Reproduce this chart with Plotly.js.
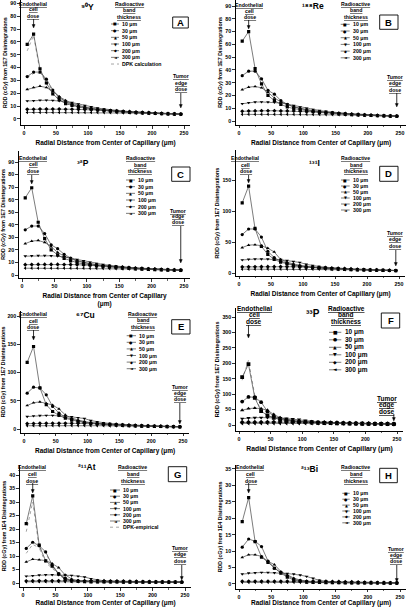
<!DOCTYPE html>
<html><head><meta charset="utf-8">
<script src="https://cdn.plot.ly/plotly-3.0.1.min.js"></script>
<style>html,body{margin:0;padding:0;background:#fff;}#chart{width:407px;height:607px;}</style>
</head><body><div id="chart"></div>
<script>
// ---------- DATA ----------
const xRadial = [5,15,25,35,45,55,65,75,85,95,105,115,125,135,145,155,165,175,185,195,205,215,225,235,245];
const bandLabels = ['10 \u03bcm','30 \u03bcm','50 \u03bcm','100 \u03bcm','200 \u03bcm','300 \u03bcm'];
const panelLetters = ['A','B','C','D','E','F','G','H'];
const isotopeLabels = ['\u2079\u2070Y','\u00b9\u2078\u2078Re','\u00b3\u00b2P','\u00b9\u00b3\u00b9I','\u2076\u2077Cu','\u00b3\u00b3P','\u00b2\u00b9\u00b9At','\u00b2\u00b9\u00b3Bi'];
const yTitles = ['RDD (cGy) from 1E7 Disintegrations','RDD (cGy) from 1E7 Disintegrations','RDD (cGy) from 1E7 Disintegrations','RDD (cGy) from 1E7 Disintegrations','RDD (cGy) from 1E7 Disintegrations','RDD (cGy) from 1E7 Disintegrations','RDD (cGy) from 1E4 Disintegrations','RDD (cGy) from 1E4 Disintegrations'];
const xTitle = 'Radial Distance from Center of Capillary (\u03bcm)';
const endoX = 15, tumorX = 245;

// Panel A: 90Y
const a10  = [58,66,39,28,19.5,15,12,10.5,9.3,8.4,7.7,7.1,6.6,6.2,5.8,5.5,5.2,4.9,4.7,4.5,4.3,4.1,3.9,3.8,3.7];
const a30  = [33,36.5,36.5,31,22.5,17,13.5,11.3,9.8,8.8,8,7.3,6.8,6.3,5.9,5.6,5.3,5.0,4.8,4.6,4.4,4.2,4.0,3.9,3.8];
const a50  = [23,24.5,25.5,24.5,21.5,17.5,14.5,12.2,10.5,9.3,8.4,7.7,7.1,6.6,6.1,5.7,5.4,5.1,4.9,4.7,4.5,4.3,4.1,4.0,3.9];
const a100 = [14,14.2,14.6,14.6,14.4,14.1,13.6,12.8,11.6,10.4,9.4,8.5,7.8,7.2,6.6,6.1,5.7,5.4,5.1,4.8,4.6,4.4,4.2,4.0,3.9];
const a200 = [7.5,7.6,7.7,7.7,7.7,7.7,7.6,7.6,7.5,7.4,7.3,7.1,6.9,6.6,6.3,6.0,5.7,5.4,5.1,4.9,4.6,4.4,4.2,4.0,3.8];
const a300 = [5.1,5.1,5.1,5.1,5.1,5.1,5.1,5.1,5.1,5.1,5.1,5.0,5.0,4.9,4.9,4.8,4.7,4.6,4.5,4.4,4.3,4.1,4.0,3.8,3.7];
const aDpk10 = [53,65,37,27,19,15,12,10.3,9.1,8.2,7.5,7.0,6.5,6.1,5.7,5.4,5.1,4.9,4.7,4.5,4.3,4.1,3.9,3.8,3.7];
const aDpk30 = [32,35.5,35.5,30,21.5,16.5,13.2,11,9.6,8.6,7.9,7.2,6.7,6.2,5.8,5.5,5.2,5.0,4.8,4.6,4.4,4.2,4.0,3.9,3.8];

// Panel B: 188Re
const b10  = [62.5,70,41,29,20,16,13,11,9.7,8.7,7.9,7.3,6.7,6.3,5.9,5.5,5.2,4.9,4.7,4.5,4.3,4.1,3.9,3.8,3.7];
const b30  = [35.5,39,39,33,24,21,16,13,11.2,9.8,8.8,8,7.3,6.8,6.3,5.9,5.5,5.2,4.9,4.7,4.5,4.3,4.1,3.9,3.8];
const b50  = [24.5,26.5,27,26,22.5,18,15,12.7,11,9.8,8.8,8,7.4,6.8,6.3,5.9,5.5,5.2,4.9,4.7,4.5,4.3,4.1,4.0,3.9];
const b100 = [13.5,14.3,14.8,14.9,14.8,14.6,14.1,13.2,12.1,11,9.9,9,8.2,7.5,6.9,6.4,5.9,5.5,5.2,4.9,4.6,4.4,4.2,4.0,3.9];
const b200 = [7.6,7.8,7.9,8,8,8,7.9,7.9,7.8,7.7,7.5,7.3,7.0,6.7,6.4,6.1,5.8,5.5,5.2,4.9,4.7,4.4,4.2,4.0,3.9];
const b300 = [5.2,5.2,5.2,5.2,5.2,5.2,5.2,5.2,5.2,5.2,5.2,5.1,5.1,5.0,4.9,4.9,4.8,4.7,4.5,4.4,4.3,4.1,4.0,3.8,3.7];

// Panel C: 32P
const c10  = [61.5,69.5,42,29,20,16,13.2,11.2,9.8,8.8,8,7.3,6.8,6.3,5.9,5.5,5.2,4.9,4.7,4.5,4.3,4.1,3.9,3.8,3.7];
const c30  = [36,39,39,33,24,21,16.5,13.5,11.5,10,9,8.2,7.5,6.9,6.4,6,5.6,5.3,5,4.8,4.6,4.4,4.2,4.0,3.9];
const c50  = [25,27,27.5,26,22.5,18,15,12.8,11.1,9.9,8.9,8.1,7.5,6.9,6.4,6,5.6,5.3,5,4.8,4.6,4.4,4.2,4.0,3.9];
const c100 = [15,15.2,15.4,15.5,15.3,15,14.4,13.5,12.4,11.3,10.2,9.2,8.4,7.7,7.1,6.5,6,5.6,5.3,5,4.7,4.5,4.3,4.1,3.9];
const c200 = [8.2,8.3,8.4,8.4,8.4,8.4,8.3,8.3,8.2,8.0,7.8,7.6,7.3,7.0,6.6,6.3,5.9,5.6,5.3,5.0,4.8,4.5,4.3,4.1,3.9];
const c300 = [5.4,5.4,5.4,5.4,5.4,5.4,5.4,5.4,5.4,5.4,5.3,5.3,5.2,5.1,5.0,4.9,4.8,4.7,4.6,4.5,4.3,4.2,4.0,3.9,3.7];

// Panel D: 131I
const d10  = [113,140,72,43,30,22,17.5,14.5,12.3,10.8,9.6,8.7,7.9,7.3,6.8,6.3,5.9,5.5,5.2,4.9,4.6,4.4,4.2,4.0,3.9];
const d30  = [62,71,71,58,35,25,19,15.5,13,11.3,10,9,8.2,7.5,6.9,6.4,6,5.6,5.3,5,4.7,4.5,4.3,4.1,3.9];
const d50  = [41,45,45.5,44,40,34,22,17.5,14.5,12.4,10.8,9.6,8.7,7.9,7.2,6.7,6.2,5.8,5.4,5.1,4.8,4.6,4.3,4.1,4.0];
const d100 = [21,22,22.5,22.5,22.5,22,21.5,20,18.5,17,14,12,10.5,9.3,8.3,7.5,6.8,6.3,5.8,5.4,5.1,4.8,4.5,4.3,4.1];
const d200 = [9.8,10,10.1,10.2,10.2,10.2,10.2,10.1,10.0,9.9,9.7,9.4,9.0,8.6,8.1,7.6,7.1,6.6,6.1,5.7,5.3,5.0,4.6,4.3,4.0];
const d300 = [6.2,6.2,6.2,6.3,6.3,6.3,6.3,6.3,6.3,6.3,6.2,6.2,6.1,6.0,5.9,5.8,5.6,5.4,5.2,5.0,4.8,4.6,4.4,4.1,3.9];

// Panel E: 67Cu
const e10  = [118,146,73,43,31,24,19,15.6,13.2,11.5,10.1,9.1,8.2,7.5,6.9,6.4,5.9,5.5,5.2,4.9,4.6,4.4,4.2,4.0,3.8];
const e30  = [63.5,74,72.5,60.5,40,28,21,17,14.2,12.1,10.6,9.4,8.5,7.7,7.1,6.5,6.1,5.7,5.3,5.0,4.7,4.5,4.3,4.1,3.9];
const e50  = [41.5,46.5,48,45.5,42.5,35.5,25,19.2,15.6,13.2,11.4,10.1,9,8.2,7.5,6.9,6.3,5.9,5.5,5.2,4.9,4.6,4.4,4.2,4.0];
const e100 = [22,23,23.8,24,24,23.5,23,21.5,20,18.5,15,12.8,11.1,9.8,8.7,7.8,7.1,6.5,6,5.6,5.2,4.9,4.6,4.3,4.1];
const e200 = [9.5,9.8,10,10,10.1,10.1,10.1,10.1,10,9.9,9.7,9.4,9,8.6,8.1,7.6,7.1,6.6,6.1,5.7,5.3,5,4.6,4.3,4.0];
const e300 = [5.8,5.9,5.9,5.9,6,6,6,6,6,6,5.9,5.9,5.8,5.7,5.6,5.5,5.4,5.2,5.0,4.9,4.7,4.5,4.3,4.1,3.9];

// Panel F: 33P
const f10  = [155,197,88,45,31,23,18,14.5,12,10.3,9,8,7.2,6.5,6,5.5,5.1,4.7,4.4,4.1,3.8,3.6,3.4,3.2,3.0];
const f30  = [76,91,90,74,44,29,21,16.5,13.5,11.4,9.9,8.7,7.8,7,6.4,5.8,5.4,5,4.6,4.3,4,3.7,3.5,3.3,3.1];
const f50  = [48,53,55,53,48,34,24,18.5,15,12.6,10.8,9.5,8.4,7.6,6.8,6.2,5.7,5.2,4.8,4.5,4.1,3.9,3.6,3.4,3.2];
const f100 = [20.5,22.5,23.5,24,24,23.5,22.5,21,19.5,18,14.5,12.2,10.5,9.2,8.2,7.3,6.6,6,5.5,5.1,4.7,4.3,4,3.7,3.4];
const f200 = [8.7,9,9.2,9.3,9.4,9.4,9.4,9.4,9.3,9.2,9,8.7,8.4,8,7.6,7.1,6.6,6.1,5.6,5.2,4.8,4.4,4.1,3.8,3.5];
const f300 = [5.4,5.5,5.5,5.6,5.6,5.6,5.6,5.6,5.6,5.6,5.6,5.5,5.5,5.4,5.3,5.1,5,4.8,4.6,4.4,4.2,3.9,3.7,3.5,3.3];
const fDpk10 = [145,210,95,46,31,23,18,14.5,12,10.3,9,8,7.2,6.5,6,5.5,5.1,4.7,4.4,4.1,3.8,3.6,3.4,3.2,3.0];

// Panel G: 211At
const g10  = [22,32.3,14,8.2,6.2,3.3,1.5,0.8,0.6,0.5,0.45,0.42,0.4,0.38,0.37,0.36,0.35,0.34,0.33,0.32,0.31,0.3,0.3,0.29,0.28];
const g30  = [12.8,15.1,13.8,11.5,6.7,3.5,1.8,1.0,0.7,0.6,0.55,0.5,0.47,0.45,0.43,0.41,0.4,0.38,0.37,0.36,0.35,0.34,0.33,0.32,0.31];
const g50  = [7.8,8.8,8.6,8.3,7.2,5.7,3,1.5,0.9,0.7,0.6,0.55,0.5,0.48,0.46,0.44,0.42,0.4,0.39,0.38,0.37,0.36,0.35,0.34,0.33];
const g100 = [2.5,2.7,2.9,3,3,3,2.9,2.8,2.5,2.2,1.6,1.1,0.8,0.65,0.57,0.52,0.48,0.45,0.43,0.41,0.39,0.38,0.36,0.35,0.34];
const g200 = [0.75,0.78,0.8,0.8,0.8,0.8,0.8,0.8,0.8,0.8,0.8,0.78,0.76,0.74,0.7,0.67,0.63,0.59,0.55,0.51,0.47,0.44,0.41,0.38,0.36];
const g300 = [0.45,0.46,0.47,0.47,0.47,0.47,0.47,0.47,0.47,0.47,0.47,0.47,0.47,0.46,0.46,0.45,0.44,0.43,0.42,0.41,0.4,0.39,0.37,0.36,0.35];
const gDpk10 = [19,30,13,7.5,5.5,3,1.4,0.7,0.5,0.45,0.4,0.38,0.36,0.35,0.34,0.33,0.32,0.31,0.3,0.3,0.29,0.28,0.28,0.27,0.27];
const gDpk30 = [11,14.3,13,11,6.4,3.3,1.7,0.9,0.65,0.55,0.5,0.47,0.44,0.42,0.4,0.39,0.37,0.36,0.35,0.34,0.33,0.32,0.31,0.3,0.3];

// Panel H: 213Bi
const h10  = [19,26.3,12.9,8.2,6.6,4.8,3.3,2.1,1.2,0.8,0.6,0.5,0.45,0.42,0.4,0.38,0.36,0.34,0.33,0.32,0.31,0.3,0.29,0.28,0.27];
const h30  = [11.2,13.7,13,11.4,7,4.8,3.5,2.5,1.5,1,0.7,0.55,0.5,0.46,0.43,0.41,0.39,0.37,0.35,0.34,0.33,0.32,0.31,0.3,0.29];
const h50  = [8.1,8.9,8.9,8.4,6.9,5.9,3.8,2.7,1.8,1.2,0.8,0.6,0.52,0.48,0.45,0.42,0.4,0.38,0.36,0.35,0.34,0.33,0.32,0.31,0.3];
const h100 = [3,3.3,3.4,3.5,3.5,3.4,3.3,3.2,3,2.7,2.3,1.7,1.1,0.8,0.62,0.54,0.49,0.45,0.42,0.4,0.38,0.36,0.35,0.34,0.33];
const h200 = [0.8,0.82,0.84,0.85,0.85,0.85,0.85,0.85,0.85,0.85,0.85,0.84,0.82,0.8,0.77,0.73,0.69,0.64,0.59,0.54,0.5,0.46,0.42,0.39,0.36];
const h300 = [0.5,0.5,0.51,0.51,0.51,0.51,0.51,0.51,0.51,0.51,0.51,0.51,0.5,0.5,0.49,0.49,0.48,0.47,0.46,0.45,0.43,0.42,0.4,0.38,0.36];

// ---------- LAYOUT / STYLE ----------
const W = 407, H = 607;
const FONT = 'Liberation Sans, Arial, sans-serif';
const PX = v => v / W, PY = v => 1 - v / H;
const symbols = ['square','circle','triangle-up','triangle-down','diamond','triangle-left'];
const glyphs = ['\u25A0','\u25CF','\u25B2','\u25BC','\u25C6','\u25C4'];

const panels = [
 {series:[a10,a30,a50,a100,a200,a300], dpk:[aDpk10,aDpk30], dpkLabel:'DPK calculation',
  g:{x0:24,x250:184,y0:119,yT:3.3,T:90,ylo:-4.7,yhi:92.5,dt:10}, fs:5.2,
  endo:{x:33,y:3.5,dy:6,t:19,h:28}, iso:{x:87,y:7}, band:{x:129,y:4,dy:6.3},
  leg:{s0:111,s1:119,tx:121,y:24,dy:6.67}, box:[172.7,188.3,17,28], tum:{x:180.5,y:76,dy:6.7,t:93,h:108}},
 {series:[b10,b30,b50,b100,b200,b300], dpk:[],
  g:{x0:239,x250:400,y0:121,yT:6,T:90,ylo:-3.1,yhi:94.7,dt:10}, fs:5.2,
  endo:{x:249.7,y:5,dy:5.85,t:20,h:29}, iso:{x:313,y:6}, band:{x:355.7,y:4,dy:6.3},
  leg:{s0:340.7,s1:349.7,tx:352,y:24.3,dy:6.7}, box:[379.7,398,15,29.3], tum:{x:395,y:77,dy:6.3,t:93,h:107}},
 {series:[c10,c30,c50,c100,c200,c300], dpk:[],
  g:{x0:22,x250:184,y0:275,yT:162,T:90,ylo:-2.4,yhi:99,dt:10}, fs:5.2, wrapX:true,
  endo:{x:33.3,y:158,dy:6.3,t:175,h:184}, iso:{x:83,y:163}, band:{x:140,y:158,dy:6.6},
  leg:{s0:126,s1:135,tx:137,y:180,dy:6.67}, box:[171.7,190,167,181.3], tum:{x:178,y:210.7,dy:5.7,t:226,h:263}},
 {series:[d10,d30,d50,d100,d200,d300], dpk:[],
  g:{x0:239,x250:399,y0:273,yT:180,T:150,ylo:-4.8,yhi:198,dt:50}, fs:5.2,
  endo:{x:245.7,y:158,dy:6.6,t:175,h:183}, iso:{x:314.7,y:163}, band:{x:355.7,y:158,dy:6.6},
  leg:{s0:341,s1:349.7,tx:352,y:180,dy:6}, box:[379.7,398,166.3,181.3], tum:{x:395.3,y:233,dy:6.3,t:250,h:266}},
 {series:[e10,e30,e50,e100,e200,e300], dpk:[],
  g:{x0:24,x250:183,y0:429,yT:316,T:200,ylo:-7,yhi:209,dt:50}, fs:5.2,
  endo:{x:33.3,y:314,dy:6.7,t:330,h:340}, iso:{x:85,y:315.3}, band:{x:142.7,y:314,dy:6.3},
  leg:{s0:126.7,s1:136,tx:138,y:335.7,dy:6.6}, box:[171.7,190,319.7,334], tum:{x:180,y:387.3,dy:5.85,t:403,h:424}},
 {series:[f10,f30,f50,f100,f200,f300], dpk:[fDpk10], dpkLabel:null,
  g:{x0:239,x250:397,y0:425,yT:317,T:350,ylo:-19,yhi:380,dt:50}, fs:6.5, big:true,
  endo:{x:254,y:308,dy:6.7,t:325,h:338}, iso:{x:313,y:313}, band:{x:346.3,y:308,dy:6.8},
  leg:{s0:329,s1:341.3,tx:344,y:332.3,dy:7.5}, box:[381.3,399.7,313,328], tum:{x:387.3,y:398,dy:6.7,t:414,h:421}},
 {series:[g10,g30,g50,g100,g200,g300], dpk:[gDpk10,gDpk30], dpkLabel:'DPK-empirical',
  g:{x0:23,x250:185,y0:583,yT:475,T:40,ylo:-1.5,yhi:43.7,dt:5}, fs:5.2,
  endo:{x:32.3,y:466.7,dy:7,t:483,h:493}, iso:{x:86.7,y:466.7}, band:{x:132.7,y:466.7,dy:7.3},
  leg:{s0:110,s1:120,tx:122,y:490,dy:6.2}, box:[168.3,186.7,466.7,481.7], tum:{x:180,y:547.7,dy:6.7,t:565,h:580}},
 {series:[h10,h30,h50,h100,h200,h300], dpk:[],
  g:{x0:239,x250:400,y0:584,yT:469,T:35,ylo:-1.5,yhi:36.2,dt:5}, fs:5.2,
  endo:{x:250.7,y:466.7,dy:7,t:483,h:493}, iso:{x:309,y:469}, band:{x:355.7,y:466.7,dy:7},
  leg:{s0:342.3,s1:349.7,tx:352,y:493.3,dy:5.9}, box:[379.7,397.3,468.3,482.7], tum:{x:396.3,y:549,dy:6,t:565,h:582}}
];

const traces = [], shapes = [], annotations = [];
const layout = {
  width: W, height: H, margin: {l:0, r:0, t:0, b:0},
  paper_bgcolor: '#fff', plot_bgcolor: '#fff', showlegend: false,
  font: {family: FONT, color: '#000'}
};

function textLines(lines, xc, y0, dy, size, underline) {
  lines.forEach((t, k) => annotations.push({
    xref:'paper', yref:'paper', x:PX(xc), y:PY(y0 + k*dy), xanchor:'center', yanchor:'middle',
    text:t, showarrow:false, borderpad:0,
    font:{family:FONT, size:size, color:'#000', weight:'bold', lineposition: underline ? 'under' : 'none'}
  }));
}

// downward arrow drawn as shapes: x in data units of axis xa, y in paper pixels
function arrowShape(xa, xData, tailPx, headPx, sx) {
  const hw = 1.5 / sx;
  const hl = 3.5;
  shapes.push({type:'line', xref:xa, yref:'paper', x0:xData, x1:xData, y0:PY(tailPx), y1:PY(headPx - hl + 0.5),
    line:{color:'#000', width:0.8}});
  shapes.push({type:'path', xref:xa, yref:'paper',
    path:`M ${xData - hw} ${PY(headPx - hl)} L ${xData + hw} ${PY(headPx - hl)} L ${xData} ${PY(headPx)} Z`,
    fillcolor:'#000', line:{color:'#000', width:0.4}});
}

panels.forEach((p, i) => {
  const n = i + 1;
  const xa = n === 1 ? 'x' : 'x' + n, ya = n === 1 ? 'y' : 'y' + n;
  const g = p.g;
  const sx = (g.x250 - g.x0) / 250, sy = (g.y0 - g.yT) / g.T;
  const left = g.x0 - 5 * sx, right = g.x0 + 260 * sx;
  const top = g.y0 - g.yhi * sy, bottom = g.y0 - g.ylo * sy;
  const tickSize = 5.3;
  layout[n === 1 ? 'xaxis' : 'xaxis' + n] = {
    domain:[PX(left), PX(right)], range:[-5, 260], anchor: ya, automargin:false,
    showline:true, linecolor:'#000', linewidth:1, mirror:false,
    ticks:'outside', ticklen:2.5, tickwidth:0.8, tickcolor:'#000',
    tick0:0, dtick:50, showgrid:false, zeroline:false,
    minor:{ticks:'outside', ticklen:1.5, tickwidth:0.6, dtick:25, tickcolor:'#000'},
    tickfont:{family:FONT, size:tickSize, color:'#000', weight:'bold'},
    title:{text: p.wrapX ? 'Radial Distance from Center of Capillary<br>(\u03bcm)' : xTitle,
           font:{family:FONT, size: p.big ? 6.8 : 6.5, color:'#000', weight:'bold'}, standoff:5}
  };
  layout[n === 1 ? 'yaxis' : 'yaxis' + n] = {
    domain:[PY(bottom), PY(top)], range:[g.ylo, g.yhi], anchor: xa, automargin:false,
    showline:true, linecolor:'#000', linewidth:1,
    ticks:'outside', ticklen:2.5, tickwidth:0.8, tickcolor:'#000',
    tick0:0, dtick:g.dt, showgrid:false, zeroline:false,
    tickfont:{family:FONT, size:tickSize, color:'#000', weight:'bold'},
    title:{text: yTitles[i], font:{family:FONT, size: p.big ? 5.6 : 5.3, color:'#000', weight:'bold'}, standoff:2}
  };

  p.dpk.forEach(arr => traces.push({
    type:'scatter', mode:'lines', x:xRadial, y:arr, xaxis:xa, yaxis:ya,
    line:{color:'#9a9a9a', width:0.9, dash:'dot'}, hoverinfo:'skip'
  }));
  p.series.forEach((arr, k) => traces.push({
    type:'scatter', mode:'lines+markers', name:bandLabels[k], x:xRadial, y:arr, xaxis:xa, yaxis:ya,
    line:{color:'#444', width:0.7},
    marker:{symbol:symbols[k], size: p.big ? 3.8 : 3.2, color:'#000', line:{width:0}},
    hoverinfo:'skip'
  }));

  const fs = p.fs;
  textLines(['Endothelial','cell','dose'], p.endo.x, p.endo.y, p.endo.dy, fs, true);
  arrowShape(xa, endoX, p.endo.t, p.endo.h, sx);
  annotations.push({xref:'paper', yref:'paper', x:PX(p.iso.x), y:PY(p.iso.y), xanchor:'center', yanchor:'middle',
    text:isotopeLabels[i], showarrow:false, borderpad:0,
    font:{family:FONT, size: p.big ? 10 : 8.5, color:'#000', weight:'bold'}});
  textLines(['Radioactive','band','thickness'], p.band.x, p.band.y, p.band.dy, fs, true);
  const entries = bandLabels.map((l, k) => ({label:l, glyph:glyphs[k], dotted:false}));
  if (p.dpkLabel) entries.push({label:p.dpkLabel, glyph:'', dotted:true});
  entries.forEach((e, k) => {
    const yy = p.leg.y + k * p.leg.dy;
    shapes.push({type:'line', xref:'paper', yref:'paper', x0:PX(p.leg.s0), x1:PX(p.leg.s1), y0:PY(yy), y1:PY(yy),
      line:{color: e.dotted ? '#9a9a9a' : '#444', width: e.dotted ? 0.9 : 0.7, dash: e.dotted ? 'dot' : 'solid'}});
    if (e.glyph) annotations.push({xref:'paper', yref:'paper', x:PX((p.leg.s0 + p.leg.s1) / 2), y:PY(yy),
      xanchor:'center', yanchor:'middle', text:e.glyph, showarrow:false, borderpad:0,
      font:{family:'DejaVu Sans', size: p.big ? 4.8 : 3.8, color:'#000'}});
    annotations.push({xref:'paper', yref:'paper', x:PX(p.leg.tx), y:PY(yy), xanchor:'left', yanchor:'middle',
      text:e.label, showarrow:false, borderpad:0, font:{family:FONT, size:fs, color:'#000', weight:'bold'}});
  });
  const bx = p.box;
  shapes.push({type:'rect', xref:'paper', yref:'paper', x0:PX(bx[0]), x1:PX(bx[1]), y0:PY(bx[3]), y1:PY(bx[2]),
    line:{color:'#000', width:0.9}, fillcolor:'rgba(0,0,0,0)'});
  annotations.push({xref:'paper', yref:'paper', x:PX((bx[0] + bx[1]) / 2), y:PY((bx[2] + bx[3]) / 2),
    xanchor:'center', yanchor:'middle', text:panelLetters[i], showarrow:false, borderpad:0,
    font:{family:FONT, size:9.5, color:'#000', weight:'bold'}});
  textLines(['Tumor','edge','dose'], p.tum.x, p.tum.y, p.tum.dy, fs, true);
  arrowShape(xa, tumorX, p.tum.t, p.tum.h, sx);
});

layout.shapes = shapes;
layout.annotations = annotations;
Plotly.newPlot('chart', traces, layout, {staticPlot:true, displayModeBar:false});
</script></body></html>
